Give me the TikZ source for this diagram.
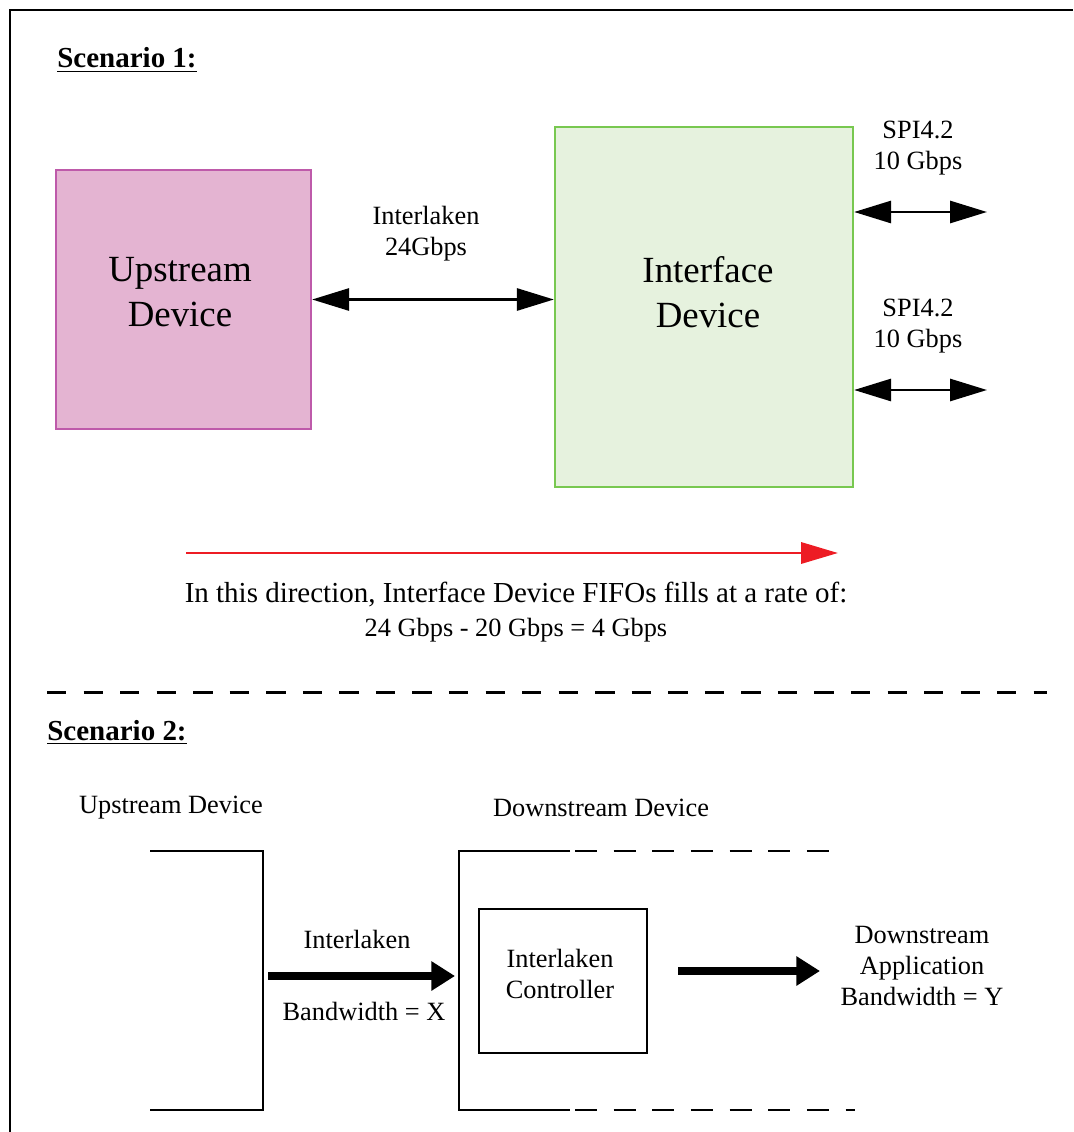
\documentclass[tikz,border=0pt]{standalone}
\usepackage{fontspec}
\setmainfont{Liberation Serif}
\usepackage{xcolor}
\usetikzlibrary{arrows.meta}

\definecolor{upfill}{RGB}{228,180,210}
\definecolor{upline}{RGB}{190,90,170}
\definecolor{iffill}{RGB}{230,242,222}
\definecolor{ifline}{RGB}{120,200,80}
\definecolor{fillred}{RGB}{237,28,36}

\begin{document}
\begin{tikzpicture}[x=0.02cm,y=-0.02cm,line cap=butt,line join=miter]
\tikzset{
    frame/.style={line width=1.2pt},
    heading/.style={anchor=base west, inner sep=0pt, font=\fontsize{16.5}{19}\selectfont\bfseries},
    label/.style={align=center, font=\fontsize{15}{17.6}\selectfont},
    biglabel/.style={align=center, font=\fontsize{21}{25.5}\selectfont},
    dblarrow/.style={line width=1.6pt, {Triangle[length=21pt,width=12.5pt]}-{Triangle[length=21pt,width=12.5pt]}},
    fatarrow/.style={line width=4.5pt, -{Triangle[length=13.5pt,width=16pt]}},
    bracket/.style={line width=1.6pt},
    dashbracket/.style={line width=1.6pt, dash pattern=on 12.5pt off 9.5pt},
}
\useasboundingbox (0,0) rectangle (1073,1132);
\draw[frame] (10,1132) -- (10,10) -- (1073,10);

% scenario 1
\node[heading] (head1) at (57,68) {\underline{Scenario 1:}};
\node[draw=upline, fill=upfill, line width=1.3pt, minimum width=5.10cm, minimum height=5.18cm] (up) at (183.5,299.5) {};
\node[draw=ifline, fill=iffill, line width=1.3pt, minimum width=5.96cm, minimum height=7.20cm] (iface) at (704,307) {};
\node[biglabel] (uptxt) at (180,292) {Upstream\\Device};
\node[biglabel] (iftxt) at (708,292) {Interface\\Device};
\node[label] (ilk) at (426,234) {Interlaken\\24Gbps};
\draw[dblarrow] (up.east) -- (up.east -| iface.west);
\node[label] (spia) at (918,148) {SPI4.2\\10 Gbps};
\node[label] (spib) at (918,326) {SPI4.2\\10 Gbps};
\coordinate (spiaend) at (987,212);
\coordinate (spibend) at (987,390);
\draw[dblarrow] (spiaend -| iface.east) -- (spiaend);
\draw[dblarrow] (spibend -| iface.east) -- (spibend);
\coordinate (fillL) at (186,553);
\coordinate (fillR) at (838,553);
\draw[fillred, line width=1.7pt, -{Triangle[length=21pt,width=12pt]}] (fillL) -- (fillR);
\node[label, font=\fontsize{16.5}{19.5}\selectfont] (rate) at (516,612) {In this direction, Interface Device FIFOs fills at a rate of:\\{\fontsize{15}{18}\selectfont 24 Gbps - 20 Gbps = 4 Gbps}};

\draw[line width=1.7pt, dash pattern=on 11pt off 9.8pt] (47,692) -- (1047,692);

% scenario 2
\node[heading] (head2) at (47,740) {\underline{Scenario 2:}};
\node[label] (uptxt2) at (171,808) {Upstream Device};
\node[label] (dntxt) at (601,808) {Downstream Device};
\draw[bracket] (150,851) -- (263,851) -- (263,1110) -- (150,1110);
\draw[bracket] (570,851) -- (459,851) -- (459,1110) -- (570,1110);
\draw[dashbracket] (575,851) -- (843,851);
\draw[dashbracket] (575,1110) -- (855,1110);
\node[draw, line width=1.6pt, minimum width=3.36cm, minimum height=2.88cm] (ctrl) at (563,981) {};
\node[label] (ctrltxt) at (560,974) {Interlaken\\Controller};
\coordinate (bwin) at (268,976);
\coordinate (bwinend) at (455,976);
\draw[fatarrow] (bwin) -- (bwinend);
\node[label] (ilk2) at (357,939) {Interlaken};
\node[label] (bwx) at (364,1011) {Bandwidth = X};
\coordinate (bwout) at (678,971);
\coordinate (bwoutend) at (820,971);
\draw[fatarrow] (bwout) -- (bwoutend);
\node[label] (app) at (922,966) {Downstream\\Application\\Bandwidth = Y};
\end{tikzpicture}
\end{document}
